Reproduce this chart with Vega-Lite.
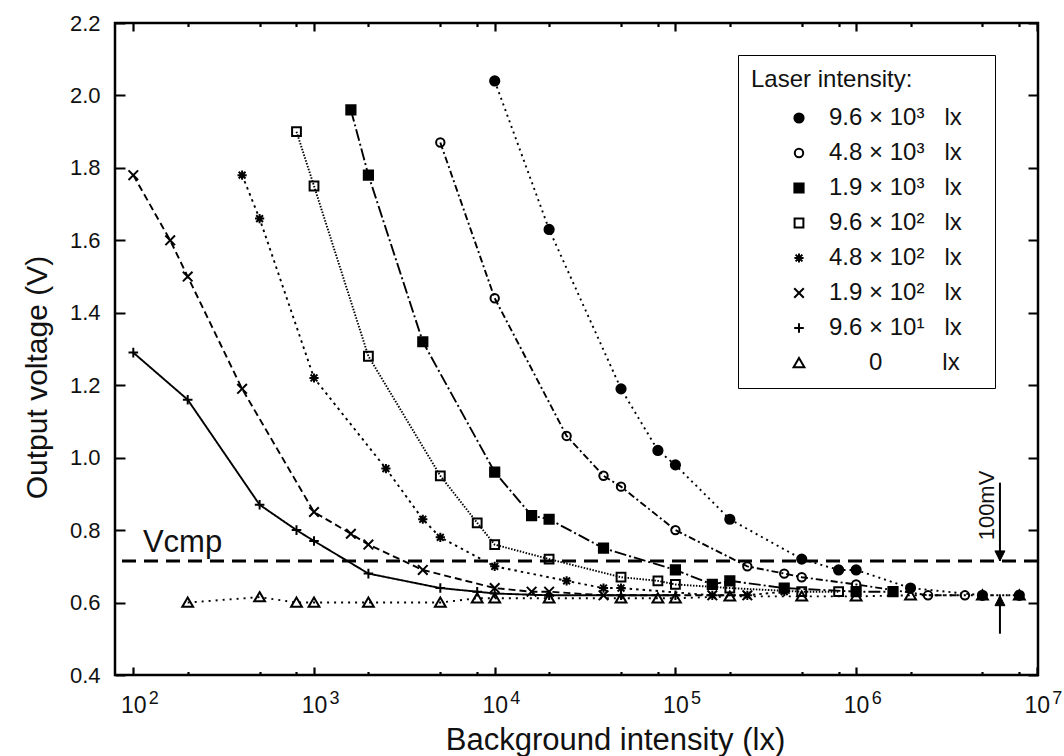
{
  "$schema": "https://vega.github.io/schema/vega-lite/v6.json",
  "width": 923,
  "height": 652,
  "autosize": {"type": "none"},
  "padding": {"left": 115, "top": 23, "right": 26, "bottom": 81},
  "background": "white",
  "resolve": {"axis": {"x": "independent", "y": "independent"}},
  "config": {
    "font": "Liberation Sans",
    "view": {"stroke": "black", "strokeWidth": 2.5},
    "axis": {"grid": false, "domain": false, "ticks": false, "labelFont": "Liberation Sans", "titleFont": "Liberation Sans", "labelColor": "#111", "titleColor": "#111", "gridColor": "#000000", "gridOpacity": 1, "gridWidth": 2.2, "titleFontWeight": "normal", "labelOverlap": false, "labelFlush": false}
  },
  "datasets": {
    "main": [
      {"s": "9.6e3", "bg": 10000, "v": 2.04}, {"s": "9.6e3", "bg": 20000, "v": 1.63}, {"s": "9.6e3", "bg": 50000, "v": 1.19}, {"s": "9.6e3", "bg": 80000, "v": 1.02}, {"s": "9.6e3", "bg": 100000, "v": 0.98}, {"s": "9.6e3", "bg": 200000, "v": 0.83}, {"s": "9.6e3", "bg": 500000, "v": 0.72}, {"s": "9.6e3", "bg": 800000, "v": 0.69}, {"s": "9.6e3", "bg": 1000000, "v": 0.69}, {"s": "9.6e3", "bg": 2000000, "v": 0.64}, {"s": "9.6e3", "bg": 5000000, "v": 0.62}, {"s": "9.6e3", "bg": 8000000, "v": 0.62},
      {"s": "4.8e3", "bg": 5000, "v": 1.87}, {"s": "4.8e3", "bg": 10000, "v": 1.44}, {"s": "4.8e3", "bg": 25000, "v": 1.06}, {"s": "4.8e3", "bg": 40000, "v": 0.95}, {"s": "4.8e3", "bg": 50000, "v": 0.92}, {"s": "4.8e3", "bg": 100000, "v": 0.8}, {"s": "4.8e3", "bg": 250000, "v": 0.7}, {"s": "4.8e3", "bg": 400000, "v": 0.68}, {"s": "4.8e3", "bg": 500000, "v": 0.67}, {"s": "4.8e3", "bg": 1000000, "v": 0.65}, {"s": "4.8e3", "bg": 2500000, "v": 0.62}, {"s": "4.8e3", "bg": 4000000, "v": 0.62},
      {"s": "1.9e3", "bg": 1600, "v": 1.96}, {"s": "1.9e3", "bg": 2000, "v": 1.78}, {"s": "1.9e3", "bg": 4000, "v": 1.32}, {"s": "1.9e3", "bg": 10000, "v": 0.96}, {"s": "1.9e3", "bg": 16000, "v": 0.84}, {"s": "1.9e3", "bg": 20000, "v": 0.83}, {"s": "1.9e3", "bg": 40000, "v": 0.75}, {"s": "1.9e3", "bg": 100000, "v": 0.69}, {"s": "1.9e3", "bg": 160000, "v": 0.65}, {"s": "1.9e3", "bg": 200000, "v": 0.66}, {"s": "1.9e3", "bg": 400000, "v": 0.64}, {"s": "1.9e3", "bg": 1000000, "v": 0.63}, {"s": "1.9e3", "bg": 1600000, "v": 0.63},
      {"s": "9.6e2", "bg": 800, "v": 1.9}, {"s": "9.6e2", "bg": 1000, "v": 1.75}, {"s": "9.6e2", "bg": 2000, "v": 1.28}, {"s": "9.6e2", "bg": 5000, "v": 0.95}, {"s": "9.6e2", "bg": 8000, "v": 0.82}, {"s": "9.6e2", "bg": 10000, "v": 0.76}, {"s": "9.6e2", "bg": 20000, "v": 0.72}, {"s": "9.6e2", "bg": 50000, "v": 0.67}, {"s": "9.6e2", "bg": 80000, "v": 0.66}, {"s": "9.6e2", "bg": 100000, "v": 0.65}, {"s": "9.6e2", "bg": 200000, "v": 0.64}, {"s": "9.6e2", "bg": 500000, "v": 0.63}, {"s": "9.6e2", "bg": 800000, "v": 0.63},
      {"s": "4.8e2", "bg": 400, "v": 1.78}, {"s": "4.8e2", "bg": 500, "v": 1.66}, {"s": "4.8e2", "bg": 1000, "v": 1.22}, {"s": "4.8e2", "bg": 2500, "v": 0.97}, {"s": "4.8e2", "bg": 4000, "v": 0.83}, {"s": "4.8e2", "bg": 5000, "v": 0.78}, {"s": "4.8e2", "bg": 10000, "v": 0.7}, {"s": "4.8e2", "bg": 25000, "v": 0.66}, {"s": "4.8e2", "bg": 40000, "v": 0.64}, {"s": "4.8e2", "bg": 50000, "v": 0.64}, {"s": "4.8e2", "bg": 160000, "v": 0.62}, {"s": "4.8e2", "bg": 250000, "v": 0.62}, {"s": "4.8e2", "bg": 400000, "v": 0.63},
      {"s": "1.9e2", "bg": 100, "v": 1.78}, {"s": "1.9e2", "bg": 160, "v": 1.6}, {"s": "1.9e2", "bg": 200, "v": 1.5}, {"s": "1.9e2", "bg": 400, "v": 1.19}, {"s": "1.9e2", "bg": 1000, "v": 0.85}, {"s": "1.9e2", "bg": 1600, "v": 0.79}, {"s": "1.9e2", "bg": 2000, "v": 0.76}, {"s": "1.9e2", "bg": 4000, "v": 0.69}, {"s": "1.9e2", "bg": 10000, "v": 0.64}, {"s": "1.9e2", "bg": 16000, "v": 0.63}, {"s": "1.9e2", "bg": 20000, "v": 0.63}, {"s": "1.9e2", "bg": 40000, "v": 0.62}, {"s": "1.9e2", "bg": 160000, "v": 0.62}, {"s": "1.9e2", "bg": 250000, "v": 0.62},
      {"s": "9.6e1", "bg": 100, "v": 1.29}, {"s": "9.6e1", "bg": 200, "v": 1.16}, {"s": "9.6e1", "bg": 500, "v": 0.87}, {"s": "9.6e1", "bg": 800, "v": 0.8}, {"s": "9.6e1", "bg": 1000, "v": 0.77}, {"s": "9.6e1", "bg": 2000, "v": 0.68}, {"s": "9.6e1", "bg": 5000, "v": 0.64}, {"s": "9.6e1", "bg": 8000, "v": 0.63}, {"s": "9.6e1", "bg": 10000, "v": 0.625}, {"s": "9.6e1", "bg": 20000, "v": 0.62}, {"s": "9.6e1", "bg": 50000, "v": 0.62}, {"s": "9.6e1", "bg": 100000, "v": 0.62},
      {"s": "0", "bg": 200, "v": 0.6}, {"s": "0", "bg": 500, "v": 0.615}, {"s": "0", "bg": 800, "v": 0.6}, {"s": "0", "bg": 1000, "v": 0.6}, {"s": "0", "bg": 2000, "v": 0.6}, {"s": "0", "bg": 5000, "v": 0.6}, {"s": "0", "bg": 8000, "v": 0.612}, {"s": "0", "bg": 10000, "v": 0.612}, {"s": "0", "bg": 20000, "v": 0.612}, {"s": "0", "bg": 50000, "v": 0.612}, {"s": "0", "bg": 80000, "v": 0.612}, {"s": "0", "bg": 100000, "v": 0.612}, {"s": "0", "bg": 200000, "v": 0.617}, {"s": "0", "bg": 500000, "v": 0.617}, {"s": "0", "bg": 1000000, "v": 0.617}, {"s": "0", "bg": 2000000, "v": 0.62}, {"s": "0", "bg": 5000000, "v": 0.62}, {"s": "0", "bg": 8000000, "v": 0.62}
    ],
    "ref": [{"v": 0.715}],
    "notes": [{"bg": 113, "v": 0.739, "t": "Vcmp"}],
    "vnote": [{"bg": 5800000, "v": 0.868, "t": "100mV"}],
    "arrows": [
      {"bg": 6250000, "v": 0.931, "v2": 0.715},
      {"bg": 6250000, "v": 0.619, "v2": 0.514}
    ],
    "tipDown": [{"bg": 6250000, "v": 0.715}],
    "tipUp": [{"bg": 6250000, "v": 0.619}]
  },
  "layer": [
    {
      "data": {"name": "ref"},
      "mark": {"type": "rule", "stroke": "black", "strokeWidth": 3, "strokeDash": [14, 8]},
      "encoding": {"y": {"field": "v", "type": "quantitative", "axis": null}}
    },
    {
      "data": {"name": "main"},
      "mark": {"type": "line", "stroke": "black", "strokeWidth": 1.9},
      "encoding": {
        "x": {"field": "bg", "type": "quantitative", "scale": {"type": "log", "domain": [79.2, 10150000], "nice": false}, "axis": null},
        "y": {"field": "v", "type": "quantitative", "scale": {"domain": [0.4, 2.2], "nice": false, "zero": false}, "axis": null},
        "detail": {"field": "s"},
        "strokeDash": {"field": "s", "type": "nominal", "legend": null,
          "scale": {"domain": ["0", "9.6e1", "1.9e2", "4.8e2", "9.6e2", "1.9e3", "4.8e3", "9.6e3"],
            "range": [[2, 5], [1, 0], [7, 4], [2.5, 4], [1.5, 1.5], [12, 3, 2, 3], [7, 3, 2, 3], [2, 4]]}}
      }
    },
    {
      "data": {"name": "main"},
      "mark": {"type": "point", "stroke": "black", "strokeWidth": 2, "size": 64, "opacity": 1},
      "encoding": {
        "x": {"field": "bg", "type": "quantitative",
          "axis": {"orient": "bottom", "values": [100, 1000, 10000, 100000, 1000000, 10000000],
            "grid": true, "gridDash": [8, 636],
            "labelExpr": "'10'", "labelFontSize": 23, "labelPadding": 37.4, "labelBaseline": "alphabetic",
            "title": "Background intensity (lx)", "titleFontSize": 31, "titleX": 500, "titleY": 74.5, "titleBaseline": "alphabetic", "titleAlign": "center"}},
        "y": {"field": "v", "type": "quantitative",
          "axis": {"orient": "left", "values": [0.4, 0.6, 0.8, 1.0, 1.2, 1.4, 1.6, 1.8, 2.0, 2.2], "format": ".1f",
            "grid": true, "gridDash": [10, 903],
            "labelFontSize": 22, "labelPadding": 15,
            "title": "Output voltage (V)", "titleFontSize": 30, "titleX": -69, "titleY": 354, "titleAngle": 270, "titleBaseline": "alphabetic", "titleAlign": "center"}},
        "shape": {"field": "s", "type": "nominal",
          "scale": {"domain": ["9.6e3", "4.8e3", "1.9e3", "9.6e2", "4.8e2", "1.9e2", "9.6e1", "0"],
            "range": ["M1.15,0A1.15,1.15,0,1,1,-1.15,0A1.15,1.15,0,1,1,1.15,0Z", "M1.05,0A1.05,1.05,0,1,1,-1.05,0A1.05,1.05,0,1,1,1.05,0Z", "M-1.15,-1.15H1.15V1.15H-1.15Z", "M-1.1,-1.1H1.1V1.1H-1.1Z", "M-1.15,0L1.15,0M0,-1.15L0,1.15M-0.85,-0.85L0.85,0.85M-0.85,0.85L0.85,-0.85", "M-1.2,-1.2L1.2,1.2M-1.2,1.2L1.2,-1.2", "M-1.2,0L1.2,0M0,-1.2L0,1.2", "M0,-1.25L1.35,1.05L-1.35,1.05Z"]},
          "legend": {"title": "Laser intensity:", "orient": "none", "legendX": 623, "legendY": 32,
            "titleFontSize": 24, "titleFontWeight": "normal", "titleColor": "#111", "labelColor": "#111", "labelFontSize": 24, "labelFont": "Liberation Sans", "titleFont": "Liberation Sans",
            "padding": 13, "strokeColor": "black", "fillColor": "white", "symbolStrokeWidth": 2, "symbolSize": 64, "rowPadding": 11, "labelOffset": 18, "symbolOffset": 36, "labelLimit": 400, "titlePadding": 14,
            "encode": {"symbols": {"stroke": {"value": "black"}, "strokeWidth": {"value": 2}, "opacity": {"value": 1}}},
            "labelExpr": "datum.label == '9.6e3' ? '9.6\u00a0×\u00a010³\u00a0\u00a0\u00a0lx\u00a0\u00a0\u00a0\u200b' : datum.label == '4.8e3' ? '4.8\u00a0×\u00a010³\u00a0\u00a0\u00a0lx' : datum.label == '1.9e3' ? '1.9\u00a0×\u00a010³\u00a0\u00a0\u00a0lx' : datum.label == '9.6e2' ? '9.6\u00a0×\u00a010²\u00a0\u00a0\u00a0lx' : datum.label == '4.8e2' ? '4.8\u00a0×\u00a010²\u00a0\u00a0\u00a0lx' : datum.label == '1.9e2' ? '1.9\u00a0×\u00a010²\u00a0\u00a0\u00a0lx' : datum.label == '9.6e1' ? '9.6\u00a0×\u00a010¹\u00a0\u00a0\u00a0lx' : '\u200b\u00a0\u00a0\u00a0\u00a0\u00a0\u00a00\u00a0\u00a0\u00a0\u00a0\u00a0\u00a0\u00a0\u00a0\u00a0lx'"}},
        "fill": {"field": "s", "type": "nominal",
          "scale": {"domain": ["9.6e3", "4.8e3", "1.9e3", "9.6e2", "4.8e2", "1.9e2", "9.6e1", "0"],
            "range": ["black", "transparent", "black", "transparent", "transparent", "transparent", "transparent", "transparent"]},
          "legend": {"title": "Laser intensity:", "orient": "none", "legendX": 623, "legendY": 32,
            "titleFontSize": 24, "titleFontWeight": "normal", "titleColor": "#111", "labelColor": "#111", "labelFontSize": 24, "labelFont": "Liberation Sans", "titleFont": "Liberation Sans",
            "padding": 13, "strokeColor": "black", "fillColor": "white", "symbolStrokeWidth": 2, "symbolSize": 64, "rowPadding": 11, "labelOffset": 18, "symbolOffset": 36, "labelLimit": 400, "titlePadding": 14,
            "encode": {"symbols": {"stroke": {"value": "black"}, "strokeWidth": {"value": 2}, "opacity": {"value": 1}}},
            "labelExpr": "datum.label == '9.6e3' ? '9.6\u00a0×\u00a010³\u00a0\u00a0\u00a0lx\u00a0\u00a0\u00a0\u200b' : datum.label == '4.8e3' ? '4.8\u00a0×\u00a010³\u00a0\u00a0\u00a0lx' : datum.label == '1.9e3' ? '1.9\u00a0×\u00a010³\u00a0\u00a0\u00a0lx' : datum.label == '9.6e2' ? '9.6\u00a0×\u00a010²\u00a0\u00a0\u00a0lx' : datum.label == '4.8e2' ? '4.8\u00a0×\u00a010²\u00a0\u00a0\u00a0lx' : datum.label == '1.9e2' ? '1.9\u00a0×\u00a010²\u00a0\u00a0\u00a0lx' : datum.label == '9.6e1' ? '9.6\u00a0×\u00a010¹\u00a0\u00a0\u00a0lx' : '\u200b\u00a0\u00a0\u00a0\u00a0\u00a0\u00a00\u00a0\u00a0\u00a0\u00a0\u00a0\u00a0\u00a0\u00a0\u00a0lx'"}}
      }
    },
    {
      "data": {"name": "arrows"},
      "mark": {"type": "rule", "stroke": "black", "strokeWidth": 2},
      "encoding": {
        "x": {"field": "bg", "type": "quantitative",
          "axis": {"orient": "bottom", "labels": false, "title": null, "grid": true, "gridDash": [3.5, 645], "values": [200, 500, 800, 2000, 5000, 8000, 20000, 50000, 80000, 200000, 500000, 800000, 2000000, 5000000, 8000000]}},
        "y": {"field": "v", "type": "quantitative", "axis": null}, "y2": {"field": "v2"}}
    },
    {
      "data": {"name": "tipDown"},
      "mark": {"type": "point", "shape": "M0,0L-1,-2L1,-2Z", "filled": true, "fill": "black", "stroke": "black", "strokeWidth": 1, "size": 100, "opacity": 1},
      "encoding": {"x": {"field": "bg", "type": "quantitative", "axis": null}, "y": {"field": "v", "type": "quantitative", "axis": null}}
    },
    {
      "data": {"name": "tipUp"},
      "mark": {"type": "point", "shape": "M0,0L-1,2L1,2Z", "filled": true, "fill": "black", "stroke": "black", "strokeWidth": 1, "size": 100, "opacity": 1},
      "encoding": {"x": {"field": "bg", "type": "quantitative", "axis": null}, "y": {"field": "v", "type": "quantitative", "axis": null}}
    },
    {
      "data": {"name": "notes"},
      "mark": {"type": "text", "fontSize": 31, "align": "left", "baseline": "alphabetic", "color": "#111", "font": "Liberation Sans"},
      "encoding": {
        "x": {"field": "bg", "type": "quantitative",
          "axis": {"orient": "bottom", "values": [100, 1000, 10000, 100000, 1000000, 10000000], "labelExpr": "'\u200b\u00a0\u00a0\u00a0' + round(log(datum.value)/LN10)",
            "labelFontSize": 18, "labelPadding": 28.7, "labelBaseline": "alphabetic", "labelAlign": "left", "title": null}},
        "y": {"field": "v", "type": "quantitative", "axis": null},
        "text": {"field": "t"}
      }
    },
    {
      "data": {"name": "vnote"},
      "mark": {"type": "text", "fontSize": 22, "align": "center", "baseline": "alphabetic", "angle": 270, "color": "#111", "font": "Liberation Sans"},
      "encoding": {"x": {"field": "bg", "type": "quantitative", "axis": null}, "y": {"field": "v", "type": "quantitative", "axis": null}, "text": {"field": "t"}}
    }
  ]
}
